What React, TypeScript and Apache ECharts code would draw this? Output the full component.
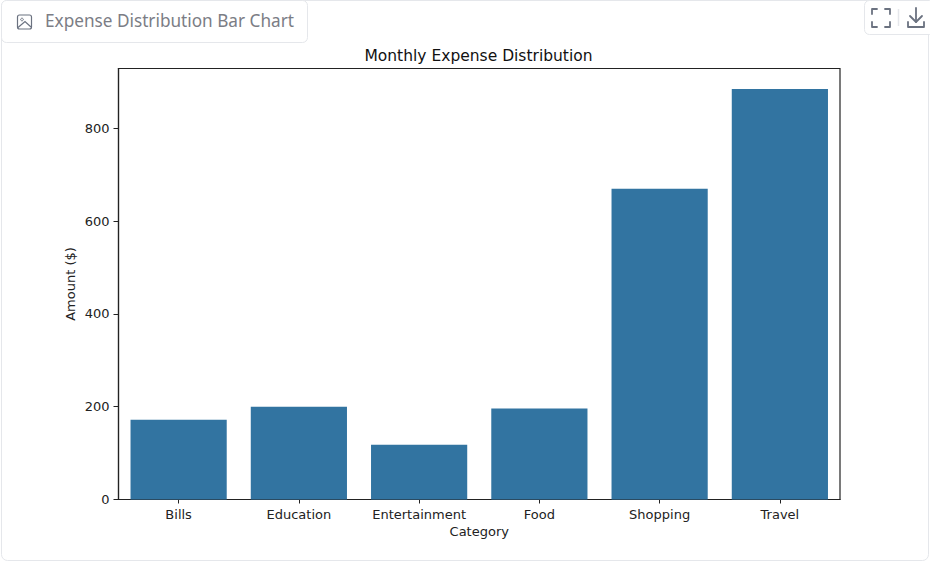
import React, { useEffect, useRef } from "react";
import * as echarts from "echarts";

const categories = ["Bills", "Education", "Entertainment", "Food", "Shopping", "Travel"];
const amounts = [172, 200, 118, 196, 670, 885];
const yTicks = [0, 200, 400, 600, 800];
const chartTitle = "Monthly Expense Distribution";
const xName = "Category";
const yName = "Amount ($)";
const headerLabel = "Expense Distribution Bar Chart";

const mpl = "'DejaVu Sans', sans-serif";
const iconColor = "#6b7280";
const lineStyle = { stroke: iconColor, lineWidth: 1.8, fill: "none", lineCap: "round" as const, lineJoin: "round" as const };

export default function App() {
  const ref = useRef<HTMLDivElement>(null);
  useEffect(() => {
    document.body.style.margin = "0";
    const chart = echarts.init(ref.current!, null, { renderer: "svg" });
    chart.setOption({
      animation: false,
      backgroundColor: "#ffffff",
      title: {
        text: chartTitle,
        left: 473.5,
        top: 42.5,
        textAlign: "center",
        textStyle: { fontFamily: mpl, fontSize: 15.5, fontWeight: "normal", color: "#111" },
      },
      grid: { left: 118.5, top: 68.5, width: 721.5, height: 431, show: true, borderColor: "#222", borderWidth: 1.2, backgroundColor: "transparent" },
      xAxis: {
        type: "category",
        data: categories,
        name: xName,
        nameLocation: "middle",
        nameGap: 25,
        nameMoveOverlap: false,
        nameTextStyle: { fontFamily: mpl, fontSize: 13, color: "#222" },
        axisLine: { show: true, lineStyle: { color: "#222", width: 1.2 } },
        axisTick: { show: true, alignWithLabel: true, length: 4, lineStyle: { color: "#222" } },
        axisLabel: { fontFamily: mpl, fontSize: 13, color: "#222", margin: 8, interval: 0 },
        splitLine: { show: false },
      },
      yAxis: {
        type: "value",
        min: 0,
        max: 929,
        name: yName,
        nameLocation: "middle",
        nameGap: 42,
        nameMoveOverlap: false,
        nameTextStyle: { fontFamily: mpl, fontSize: 13, color: "#222" },
        axisLine: { show: true, lineStyle: { color: "#222", width: 1.2 } },
        axisTick: { show: true, length: 5, customValues: yTicks, lineStyle: { color: "#222" } },
        axisLabel: { fontFamily: mpl, fontSize: 13, color: "#222", margin: 9, customValues: yTicks },
        splitLine: { show: false },
      },
      series: [
        {
          type: "bar",
          data: amounts,
          barWidth: "80%",
          itemStyle: { color: "#3274a1" },
        },
      ],
      graphic: [
        { type: "rect", shape: { x: 1.5, y: 0.5, width: 927, height: 560, r: 6 }, style: { stroke: "#e5e7eb", lineWidth: 1, fill: "none" }, silent: true },
        { type: "rect", shape: { x: 1.5, y: 0.5, width: 306, height: 42, r: 5 }, style: { stroke: "#e5e7eb", lineWidth: 1, fill: "#fff" }, silent: true },
        { type: "rect", shape: { x: 17.5, y: 15, width: 14, height: 14, r: 2 }, style: { stroke: iconColor, lineWidth: 1.2, fill: "none" } },
        { type: "circle", shape: { cx: 22, cy: 19.5, r: 1.3 }, style: { stroke: iconColor, lineWidth: 1, fill: "none" } },
        { type: "polyline", shape: { points: [[18, 27.5], [25, 21.5], [31, 27]] }, style: { stroke: iconColor, lineWidth: 1.2, fill: "none" } },
        { type: "text", x: 45, y: 20, style: { text: headerLabel, fontFamily: "'Noto Sans', sans-serif", fontSize: 17.2, fill: "#7b7d85", verticalAlign: "middle" } },
        { type: "rect", shape: { x: 864.5, y: 0.5, width: 70, height: 34, r: 5 }, style: { stroke: "#e5e7eb", lineWidth: 1, fill: "#fff" } },
        { type: "polyline", shape: { points: [[872, 14], [872, 9], [877, 9]] }, style: lineStyle },
        { type: "polyline", shape: { points: [[885, 9], [890, 9], [890, 14]] }, style: lineStyle },
        { type: "polyline", shape: { points: [[890, 22], [890, 27], [885, 27]] }, style: lineStyle },
        { type: "polyline", shape: { points: [[877, 27], [872, 27], [872, 22]] }, style: lineStyle },
        { type: "line", shape: { x1: 898.5, y1: 9, x2: 898.5, y2: 26 }, style: { stroke: "#e5e7eb", lineWidth: 1.5 } },
        { type: "line", shape: { x1: 916, y1: 8, x2: 916, y2: 22 }, style: lineStyle },
        { type: "polyline", shape: { points: [[910, 16], [916, 22], [922, 16]] }, style: lineStyle },
        { type: "polyline", shape: { points: [[908, 22], [908, 27], [924, 27], [924, 22]] }, style: lineStyle },
      ],
    });
    return () => chart.dispose();
  }, []);
  return <div ref={ref} style={{ width: 930, height: 562 }} />;
}
